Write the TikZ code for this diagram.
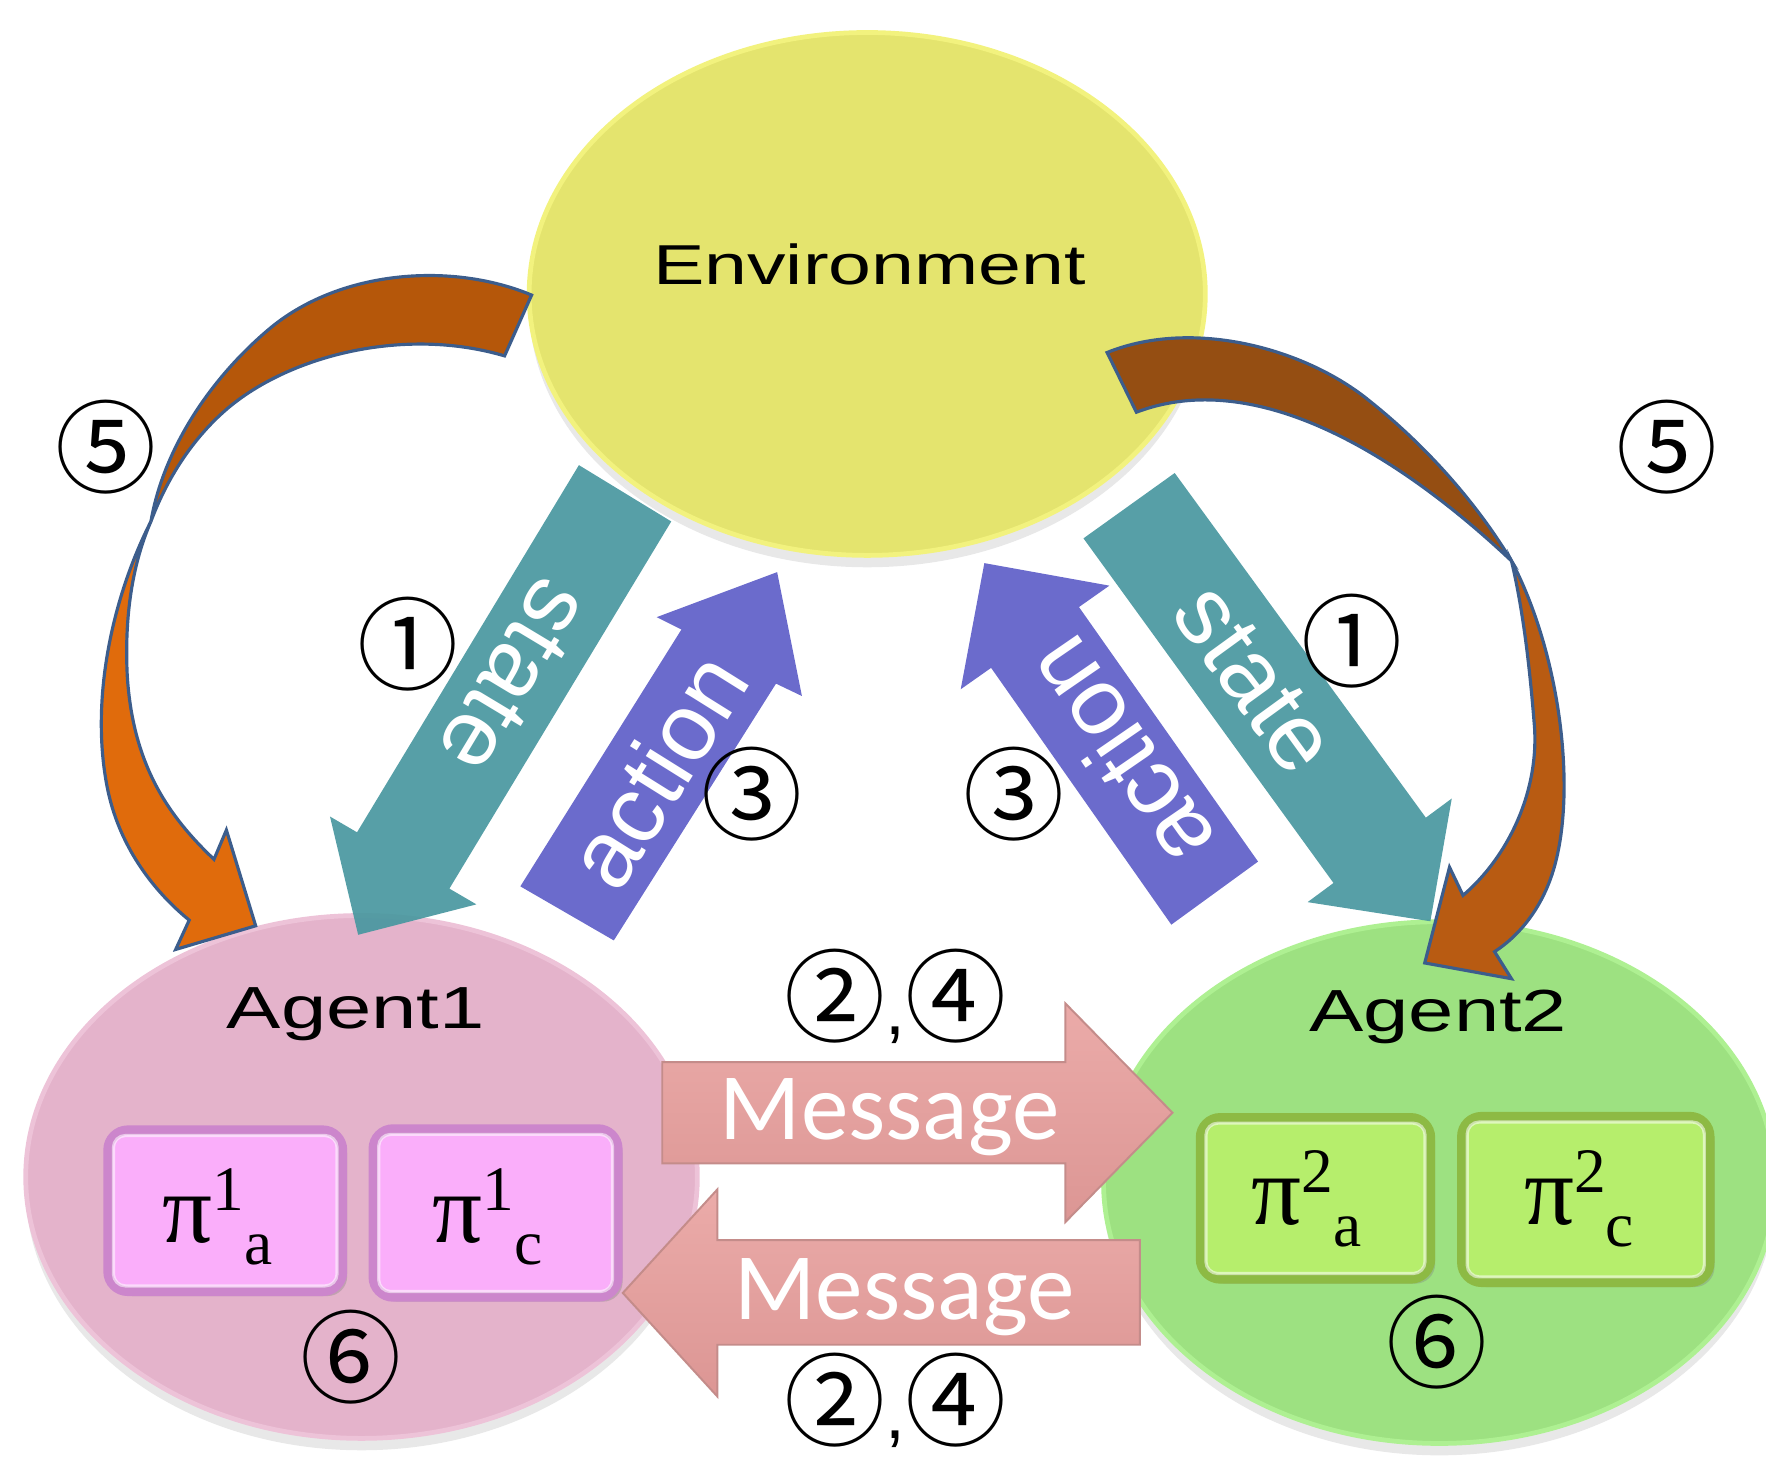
\documentclass[tikz,border=0pt]{standalone}
\usepackage{fontspec}
\usetikzlibrary{shapes.geometric,shadows,calc}
\newfontfamily\lsans{Liberation Sans}
\newfontfamily\wsans[FakeStretch=1.37]{Liberation Sans}
\newfontfamily\lserif{Liberation Serif}
\newfontfamily\carl{Carlito}
\newfontfamily\cjk{Noto Sans CJK JP}
\definecolor{envfill}{HTML}{E4E46E}
\definecolor{envrim}{HTML}{F2F27E}
\definecolor{aonefill}{HTML}{E4B3CB}
\definecolor{aonerim}{HTML}{EDC3D8}
\definecolor{atwofill}{HTML}{9DE181}
\definecolor{atworim}{HTML}{AEF092}
\definecolor{pboxfill}{HTML}{FAAEFA}
\definecolor{pboxrim}{HTML}{CC86CC}
\definecolor{gboxfill}{HTML}{B6EE6C}
\definecolor{gboxrim}{HTML}{8DBA44}
\definecolor{teal}{HTML}{4A98A0}
\definecolor{purp}{HTML}{6B6BCC}
\definecolor{orgdarkL}{HTML}{B5570A}
\definecolor{orglightL}{HTML}{E06B0C}
\definecolor{orgdarkR}{HTML}{954E12}
\definecolor{orglightR}{HTML}{B85B12}
\definecolor{curveline}{HTML}{3C5D8C}
\definecolor{msgtop}{HTML}{EBABA9}
\definecolor{msgbot}{HTML}{DC9694}
\definecolor{msgline}{HTML}{C48C8A}
\newcommand{\polname}[2]{{\fontsize{25}{25}\selectfont π}\raisebox{8pt}{\fontsize{16}{16}\selectfont #1}\raisebox{-5.7pt}{\fontsize{16}{16}\selectfont #2}}
\newcommand{\twofour}{②{\lsans\fontsize{18}{18}\selectfont ,}④}
\begin{document}
\begin{tikzpicture}[x=0.01cm,y=-0.01cm,
  bigell/.style={ellipse, inner sep=0pt, line width=1.2pt, drop shadow={shadow xshift=0pt, shadow yshift=-3pt, opacity=0.18}},
  polbox/.style={rectangle, rounded corners=5pt, line width=2.4pt, inner sep=0pt, drop shadow={shadow xshift=1.2pt, shadow yshift=-1.2pt, opacity=0.35}},
  boxshine/.style={draw=white, draw opacity=0.55, line width=0.8pt, rounded corners=3pt},
  circnum/.style={font=\cjk\fontsize{25.5}{25.5}\selectfont, inner sep=0pt},
  arrowlbl/.style={font=\lsans\fontsize{24}{24}\selectfont, text=white, inner sep=0pt},
  msglbl/.style={font=\carl\fontsize{24}{24}\selectfont, text=white, inner sep=0pt},
  agentlbl/.style={font=\wsans\fontsize{15}{15}\selectfont, anchor=base, inner sep=0pt},
  pollbl/.style={font=\lserif, anchor=base, inner sep=0pt},
  curved/.style={draw=curveline, line width=0.8pt, line join=miter},
  msgarrow/.style={top color=msgtop, bottom color=msgbot, draw=msgline, line width=0.5pt},
  blockarrow/.style={line join=miter}
]
\useasboundingbox (0,0) rectangle (1568,1295);

% ellipses
\node[bigell, fill=envfill, draw=envrim, minimum width=6.0cm, minimum height=4.64cm] (env) at (770,261) {};
\node[bigell, fill=aonefill, draw=aonerim, minimum width=5.96cm, minimum height=4.64cm] (agent1) at (321,1045) {};
\node[bigell, fill=atwofill, draw=atworim, minimum width=5.96cm, minimum height=4.63cm] (agent2) at (1278,1050) {};

% message arrows
\path[msgarrow] (588,943) -- (946,943) -- (946,891) -- (1041,988) -- (946,1085) -- (946,1033) -- (588,1033) -- cycle;
\path[msgarrow] (1012,1101) -- (637,1101) -- (637,1056) -- (553,1148) -- (637,1240) -- (637,1194) -- (1012,1194) -- cycle;
\node[msglbl] (msg1) at (790,992) {Message};
\node[msglbl] (msg2) at (803,1152) {Message};

% policy boxes
\node[polbox, fill=pboxfill, draw=pboxrim, minimum width=2.08cm, minimum height=1.43cm] (a1pa) at (200,1075) {};
\node[polbox, fill=pboxfill, draw=pboxrim, minimum width=2.17cm, minimum height=1.49cm] (a1pc) at (440,1077) {};
\node[polbox, fill=gboxfill, draw=gboxrim, minimum width=2.04cm, minimum height=1.43cm] (a2pa) at (1168,1064) {};
\node[polbox, fill=gboxfill, draw=gboxrim, minimum width=2.20cm, minimum height=1.47cm] (a2pc) at (1408,1065) {};
\foreach \b in {a1pa,a1pc,a2pa,a2pc}{
  \draw[boxshine] ($(\b.south west)+(9,-9)$) rectangle ($(\b.north east)+(-9,9)$);
}
\node[pollbl] (a1pat) at (193,1103) {\polname{1}{a}};
\node[pollbl] (a1pct) at (433,1103) {\polname{1}{c}};
\node[pollbl] (a2pat) at (1160,1087) {\polname{2}{a}};
\node[pollbl] (a2pct) at (1402,1087) {\polname{2}{c}};

% state arrows (teal)
\fill[teal, fill opacity=0.93, blockarrow] (514,413) -- (596,463) -- (399,789) -- (423,803) -- (318,830) -- (293,725) -- (317,739) -- cycle;
\fill[teal, fill opacity=0.93, blockarrow] (1043,420) -- (1266,726) -- (1289,709) -- (1270,818) -- (1161,801) -- (1184,784) -- (962,478) -- cycle;
% action arrows (purple)
\fill[purp, blockarrow] (462,787) -- (605,559) -- (583,548) -- (690,508) -- (712,618) -- (689,607) -- (545,835) -- cycle;
\fill[purp, blockarrow] (1040,821) -- (880,593) -- (853,612) -- (874,500) -- (985,520) -- (958,539) -- (1117,765) -- cycle;
\node[arrowlbl, rotate=-121] (st1) at (457,601) {state};
\node[arrowlbl, rotate=-54] (st2) at (1114,603) {state};
\node[arrowlbl, rotate=58] (ac1) at (583,684) {action};
\node[arrowlbl, rotate=124.5] (ac2) at (993,669) {action};

% curved orange arrows, left
\filldraw[curved, fill=orgdarkL] (472,262) .. controls (400,232) and (300,240) .. (238,293)
  .. controls (185,338) and (145,400) .. (134,463)
  .. controls (150,420) and (175,385) .. (204,361)
  .. controls (260,315) and (360,290) .. (448,316) -- cycle;
\filldraw[curved, fill=orglightL] (134,463) .. controls (100,530) and (80,620) .. (95,698)
  .. controls (105,750) and (135,790) .. (168,817)
  -- (156,843) -- (227,822) -- (201,737) -- (190,763)
  .. controls (150,725) and (118,680) .. (113,600)
  .. controls (110,540) and (120,495) .. (134,463) -- cycle;
% curved orange arrows, right
\filldraw[curved, fill=orgdarkR] (983,313) .. controls (1060,282) and (1160,310) .. (1216,356)
  .. controls (1265,395) and (1310,445) .. (1342,498)
  .. controls (1270,430) and (1130,320) .. (1009,366) -- cycle;
\filldraw[curved, fill=orglightR] (1342,498) .. controls (1385,580) and (1400,700) .. (1380,770)
  .. controls (1370,805) and (1350,830) .. (1327,845)
  -- (1342,869) -- (1265,855) -- (1287,770) -- (1299,795)
  .. controls (1340,760) and (1368,700) .. (1362,640)
  .. controls (1358,590) and (1352,540) .. (1342,498) -- cycle;

% labels
\node[font=\wsans\fontsize{14.2}{14.2}\selectfont, anchor=base, inner sep=0pt] (envt) at (772,253) {Environment};
\node[agentlbl] (a1t) at (316,913) {Agent1};
\node[agentlbl] (a2t) at (1277,916) {Agent2};

% circled step numbers
\node[circnum] (n5l) at (94,397) {⑤};
\node[circnum] (n5r) at (1480,397) {⑤};
\node[circnum] (n1l) at (362,572) {①};
\node[circnum] (n1r) at (1200,569) {①};
\node[circnum] (n3l) at (668,705) {③};
\node[circnum] (n3r) at (900,705) {③};
\node[circnum] (n24t) at (795,885) {\twofour};
\node[circnum] (n24b) at (795,1243) {\twofour};
\node[circnum] (n6l) at (312,1205) {⑥};
\node[circnum] (n6r) at (1276,1192) {⑥};
\end{tikzpicture}
\end{document}
